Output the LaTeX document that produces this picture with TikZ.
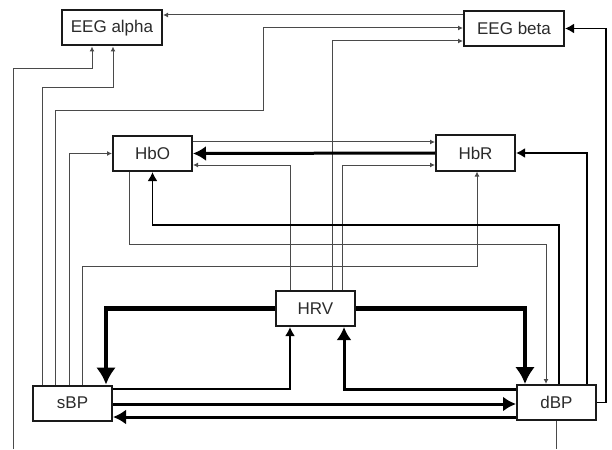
\documentclass[tikz,border=0pt]{standalone}
\usepackage{fontspec}
\setmainfont{Liberation Sans}
\usepackage{tikz}
\usetikzlibrary{arrows.meta}
\definecolor{boxline}{HTML}{1A1A1A}
\definecolor{thingrey}{HTML}{4A4A4A}
\definecolor{labelcol}{HTML}{2B2B2B}
\tikzset{
  sigbox/.style = {draw=boxline, line width=2pt, fill=white, inner sep=0pt,
                   minimum width=79pt, minimum height=35pt,
                   font=\fontsize{17}{20}\selectfont, text=labelcol},
  eegbox/.style = {sigbox, minimum width=100pt},
  lthin/.style  = {draw=thingrey, line width=1pt, -{Latex[length=5pt,width=5pt]}},
  lstub/.style  = {draw=thingrey, line width=1pt},
  lmed/.style   = {draw=black, line width=1.8pt, -{Latex[length=9pt,width=10pt]}},
  lthick/.style = {draw=black, line width=3pt, -{Latex[length=13pt,width=15pt]}},
  lheavy/.style = {draw=black, line width=4.3pt, -{Latex[length=17pt,width=20pt]}},
}

\begin{document}
\begin{tikzpicture}[x=1pt, y=-1pt]

    \useasboundingbox (0,0) rectangle (612,449);

    % ---------- boxes -----------------------------------------------------
    \node[eegbox] (eega) at (112,28)     {EEG alpha};
    \node[eegbox] (eegb) at (514,28.5)   {EEG beta};
    \node[sigbox] (hbo)  at (152.5,153.5) {HbO};
    \node[sigbox] (hbr)  at (475.5,153)  {HbR};
    \node[sigbox] (hrv)  at (315.5,308.5) {HRV};
    \node[sigbox] (sbp)  at (72.5,403)   {sBP};
    \node[sigbox] (dbp)  at (556.5,402.5) {dBP};

    % ---------- ends cut by the page edge --------------------------------
    \coordinate (cutl) at (13,449);
    \coordinate (cutr) at (556.5,449);

    % ---------- thin links ------------------------------------------------
    \draw[lthin] (eegb.west |- 0,15) -- (eega.east |- 0,15);
    \draw[lthin] (sbp.north -| 55,0) |- (263,111) |- (eegb.west |- 0,28);
    \draw[lthin] (sbp.north -| 42,0) |- (113,88) -- (eega.south -| 113,0);
    \draw[lthin] (cutl) |- (92,69) -- (eega.south -| 92,0);
    \draw[lstub] (dbp.south) -- (cutr);
    \draw[lthin] (sbp.north -| 69,0) |- (hbo.west);
    \draw[lthin] (sbp.north -| 82,0) |- (477,266) -- (hbr.south -| 477,0);
    \draw[lthin] (hbo.east |- 0,142) -- (hbr.west |- 0,142);
    \draw[lthin] (hrv.north -| 290,0) |- (hbo.east |- 0,165);
    \draw[lthin] (hrv.north -| 342,0) |- (hbr.west |- 0,165);
    \draw[lthin] (hrv.north -| 332,0) |- (eegb.west |- 0,41);
    \draw[lthin] (hbo.south -| 129,0) |- (546,244) -- (dbp.north -| 546,0);

    % ---------- medium links ----------------------------------------------
    \draw[lmed] (dbp.north -| 559,0) |- (152.5,225) -- (hbo.south);
    \draw[lmed] (dbp.north -| 587,0) |- (hbr.east);
    \draw[lmed] (dbp.east) -| (606,28.5) -- (eegb.east);
    \draw[lmed] (sbp.east |- 0,389) -| (hrv.south -| 290,0);

    % ---------- heavy links -----------------------------------------------
    \draw[lthick] (hbr.west) -- (hbo.east);
    \draw[lheavy] (hrv.west) -| (sbp.north -| 106,0);
    \draw[lheavy] (hrv.east) -| (dbp.north -| 525,0);
    \draw[lthick] (dbp.west |- 0,389) -| (hrv.south -| 344,0);
    \draw[lthick] (sbp.east |- 0,404) -- (dbp.west |- 0,404);
    \draw[lthick] (dbp.west |- 0,417) -- (sbp.east |- 0,417);

\end{tikzpicture}
\end{document}
